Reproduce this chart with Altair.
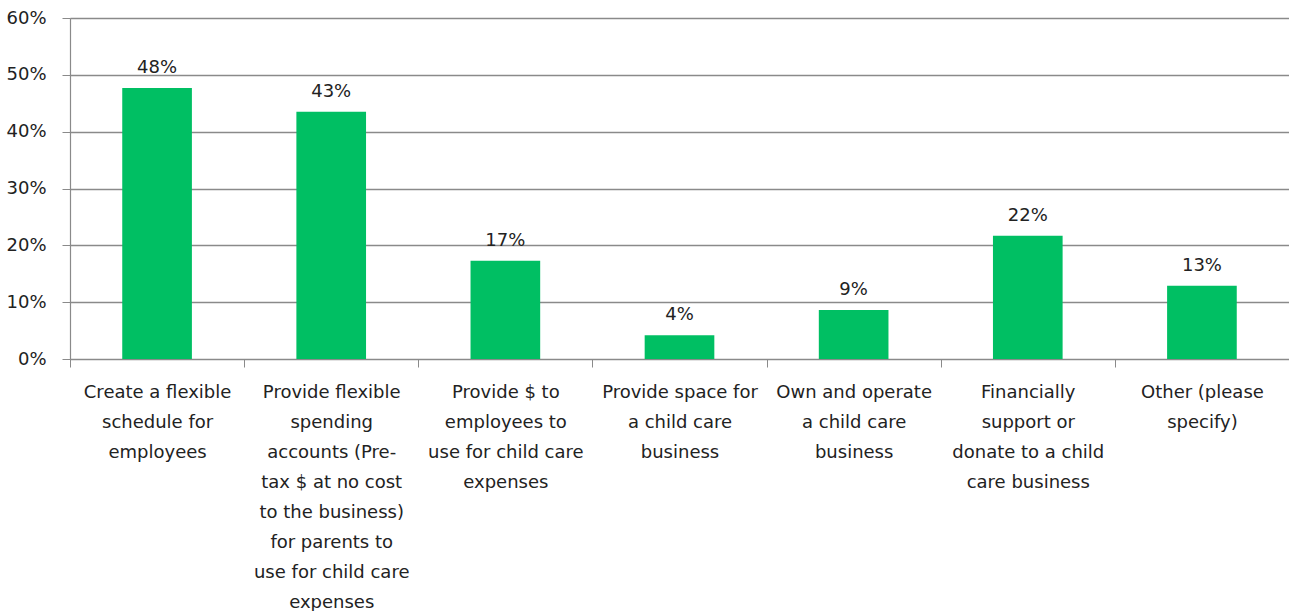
import altair as alt
import pandas as pd

categories = [
    "Create a flexible|schedule for|employees",
    "Provide flexible|spending|accounts (Pre-|tax $ at no cost|to the business)|for parents to|use for child care|expenses",
    "Provide $ to|employees to|use for child care|expenses",
    "Provide space for|a child care|business",
    "Own and operate|a child care|business",
    "Financially|support or|donate to a child|care business",
    "Other (please|specify)",
]
values = [0.477, 0.435, 0.173, 0.042, 0.086, 0.217, 0.129]
value_labels = ["48%", "43%", "17%", "4%", "9%", "22%", "13%"]

df = pd.DataFrame({"cat": categories, "val": values, "lab": value_labels})

FONT = "DejaVu Sans"
GREEN = "#00BF63"
GRAY = "#8a8a8a"

x_enc = alt.X(
    "cat:N",
    sort=categories,
    scale=alt.Scale(paddingInner=0, paddingOuter=0),
    axis=alt.Axis(
        title=None,
        labelAngle=0,
        labelExpr="split(datum.label, '|')",
        labelLineHeight=30,
        labelFontSize=18,
        labelFont=FONT,
        labelColor="#222222",
        labelLimit=0,
        labelOverlap=False,
        labelPadding=16,
        labelBaseline="top",
        tickBand="extent",
        tickSize=8,
        tickColor=GRAY,
        domainColor=GRAY,
        domainWidth=1.2,
        grid=False,
    ),
)

y_enc = alt.Y(
    "val:Q",
    scale=alt.Scale(domain=[0, 0.6]),
    axis=alt.Axis(
        title=None,
        format=".0%",
        values=[0, 0.1, 0.2, 0.3, 0.4, 0.5, 0.6],
        labelFontSize=18,
        labelFont=FONT,
        labelColor="#222222",
        labelPadding=16,
        tickSize=8,
        tickColor=GRAY,
        domainColor=GRAY,
        domainWidth=1.2,
        gridColor=GRAY,
        gridWidth=1.3,
    ),
)

bars = alt.Chart(df).mark_bar(color=GREEN, width={"band": 0.4}).encode(x=x_enc, y=y_enc)
text = alt.Chart(df).mark_text(
    baseline="bottom", dy=-11, fontSize=18, font=FONT, color="#222222"
).encode(x=alt.X("cat:N", sort=categories), y="val:Q", text="lab:N")

chart = (
    (bars + text)
    .properties(
        width=1219,
        height=341,
        autosize=alt.AutoSizeParams(type="none"),
        padding={"left": 70, "top": 18, "right": 0, "bottom": 252},
    )
    .configure_view(stroke=None)
    .configure(background="white")
)

chart.save("out.html", embed_options={"renderer": "svg", "actions": False})
